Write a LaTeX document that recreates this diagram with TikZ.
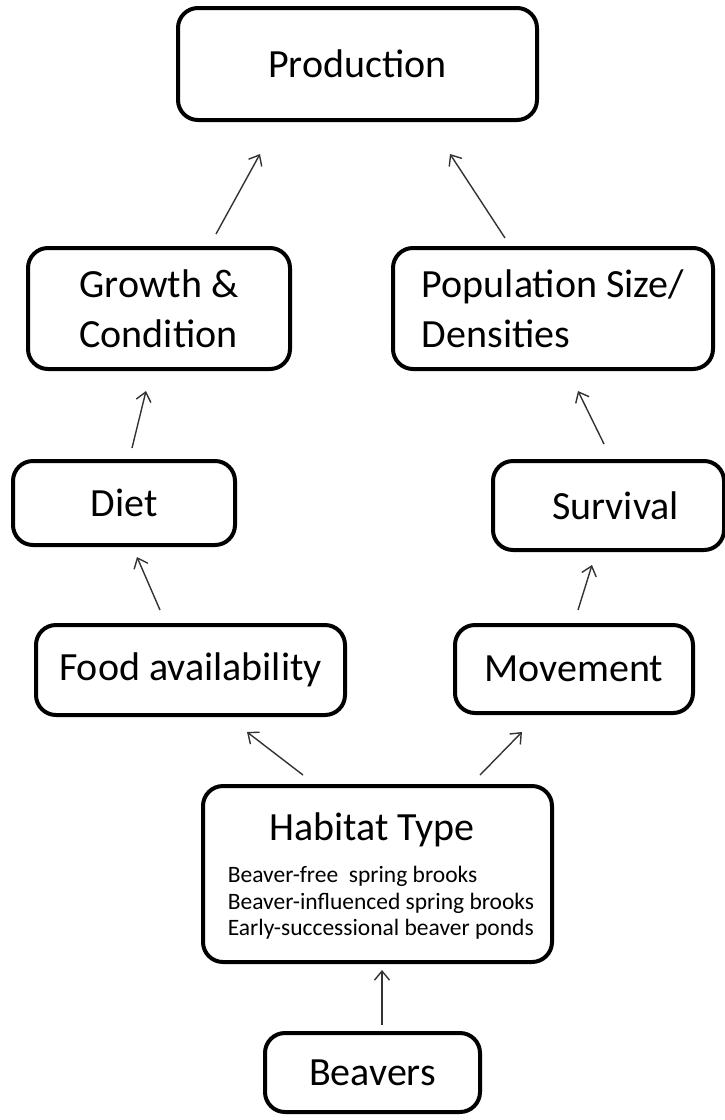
\documentclass[tikz,border=0pt]{standalone}
\usepackage{fontspec}
\setmainfont{Carlito}
\usepackage{tikz}
\usetikzlibrary{arrows.meta, calc}
\tikzstyle{box} = [draw, line width=4pt, rounded corners=20pt, align=center, inner sep=0pt, font=\fontsize{40}{50}\selectfont]
\tikzstyle{arr} = [line width=1.4pt, draw=black!80, -{Straight Barb[length=9pt, width=15pt, line width=1.4pt]}]

\begin{document}
\begin{tikzpicture}[x=1pt, y=-1pt]
    \useasboundingbox (0,0) rectangle (725,1120);

    \node[box, minimum width=359pt, minimum height=112pt] (prod) at (357.5,64) {Production};
    \node[box, minimum width=262pt, minimum height=121pt, align=left] (grow) at (159,308.5) {Growth \&\\Condition};
    \node[box, minimum width=320pt, minimum height=121pt, align=left] (pop) at (553,308.5) {Population Size/\\Densities};
    \node[box, minimum width=222pt, minimum height=84pt] (diet) at (124,503) {Diet};
    \node[box, minimum width=231pt, minimum height=89pt] (surv) at (608.5,505.5) {\hspace{14pt}Survival};
    \node[box, minimum width=309pt, minimum height=90pt] (food) at (190.5,670) {Food availability};
    \node[box, minimum width=238pt, minimum height=88pt] (move) at (574,669) {Movement};
    \node[box, minimum width=349pt, minimum height=176pt] (hab) at (377.5,874) {};
    \node[font=\fontsize{40}{50}\selectfont, inner sep=0pt] (habtitle) at (372,830) {Habitat Type};
    \node[font=\fontsize{23.5}{26.7}\selectfont, align=left, inner sep=0pt] (hablist) at (381,903) {
        Beaver-free\ \ spring brooks\\
        Beaver-influenced spring brooks\\
        Early-successional beaver ponds
    };
    \node[box, minimum width=215pt, minimum height=79pt] (beav) at (372.5,1072.5) {Beavers};

    % arrows between the boxes
    \draw[arr] ($(grow.north)+(57,-12)$) -- ($(prod.south)+(-97.5,32)$);
    \draw[arr] ($(pop.north)+(-48,-8)$) -- ($(prod.south)+(92.5,32)$);
    \draw[arr] ($(diet.north)+(8,-11)$) -- ($(grow.south)+(-13,20)$);
    \draw[arr] ($(surv.north)+(-4.5,-15)$) -- ($(pop.south)+(25,20)$);
    \draw[arr] ($(food.north)+(-30.5,-13)$) -- ($(diet.south)+(13,10)$);
    \draw[arr] ($(move.north)+(4,-13)$) -- ($(surv.south)+(-16.5,13)$);
    \draw[arr] ($(hab.north)+(-74.5,-9)$) -- ($(food.south)+(56.5,15)$);
    \draw[arr] ($(hab.north)+(102.5,-9)$) -- ($(move.south)+(-52,17)$);
    \draw[arr] ($(beav.north)+(9.5,-6)$) -- ($(hab.south)+(4.5,6)$);

\end{tikzpicture}
\end{document}
